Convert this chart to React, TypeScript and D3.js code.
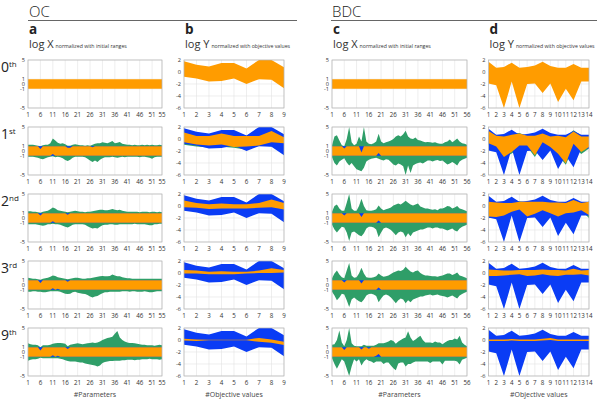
import React from "react";
import * as d3 from "d3";

const W = 600;
const H = 401;
const FONT = "'Open Sans', 'Noto Sans', sans-serif";
const ORANGE = "#ff9c00";
const GREEN = "#2f9e68";
const BLUE = "#0a3cf5";

const ROW_LABELS = [
  ["0", "th"],
  ["1", "st"],
  ["2", "nd"],
  ["3", "rd"],
  ["9", "th"],
];

const A_X_TICKS = [1, 6, 11, 16, 21, 26, 31, 36, 41, 46, 51, 55];
const C_X_TICKS = [1, 6, 11, 16, 21, 26, 31, 36, 41, 46, 51, 56];
const B_X_TICKS = [1, 2, 3, 4, 5, 6, 7, 8, 9];
const D_X_TICKS = [1, 2, 3, 4, 5, 6, 7, 8, 9, 10, 11, 12, 13, 14];
const X_Y_TICKS = [5, 1, 0, -1, -5];
const Y_Y_TICKS = [2, 0, -2, -4, -6];
const NORM_RANGE = [-1, 1];

// ---------- panel a (OC, log X, 55 parameters) ----------
const A1_GREEN_HI = [1.3,1.3,1.3,1.2,1.1,1.0,1.2,1.3,1.3,1.6, 2.6,2.2,1.7,1.5,1.6,1.4,1.1,1.1,1.3,1.4, 1.3,1.2,1.2,1.1,1.2,1.1,1.3,1.5,1.6,1.6, 1.8,1.7,1.6,1.8,2.1,1.6,1.7,1.9,1.5,1.4, 1.3,1.3,1.2,1.3,1.2,1.2,1.3,1.2,1.3,1.2, 1.3,1.2,1.2,1.3,1.2];
const A1_GREEN_LO = [-1.2,-1.2,-1.2,-1.3,-1.4,-1.6,-1.7,-1.5,-1.3,-1.2, -1.1,-1.3,-1.2,-1.3,-1.5,-1.9,-2.1,-1.8,-1.4,-1.2, -1.2,-1.2,-1.2,-1.3,-1.6,-2.0,-2.3,-2.0,-2.3,-1.8, -1.5,-1.3,-1.3,-1.3,-1.2,-1.3,-1.4,-1.3,-1.2,-1.3, -1.2,-1.2,-1.2,-1.2,-1.2,-1.3,-1.2,-1.2,-1.3,-1.4, -1.6,-1.3,-1.2,-1.2,-1.2];
const A1_ORANGE_HI = [1,1,1,1,1,0.4,1,1,1,1, 1,1,1,1,1,1,0.7,0.7,1,1, 1,1,1,1,1,1,0.8,1,1,1, 1,1,1,1,1,1,1,1,1,1, 1,1,1,1,1,1,1,1,1,1, 1,1,1,1,1];
const A1_ORANGE_LO = [-1,-1,-1,-1,-1,-1,-1,-1,-1,-1, -0.6,-1,-1,-1,-1,-1,-1,-1,-1,-1, -1,-1,-1,-1,-1,-1,-1,-1,-1,-1, -1,-1,-1,-1,-1,-1,-1,-1,-1,-1, -1,-1,-1,-1,-1,-1,-1,-1,-1,-1, -1,-1,-1,-1,-1];

const A2_GREEN_HI = [1.4,1.4,1.3,1.3,1.2,1.1,1.3,1.4,1.5,1.8, 2.2,2.0,1.6,1.5,1.4,1.3,1.2,1.3,1.4,1.5, 1.4,1.3,1.3,1.2,1.3,1.3,1.4,1.5,1.6,1.7, 1.7,1.6,1.6,1.7,1.9,1.7,1.6,1.7,1.5,1.4, 1.3,1.3,1.3,1.3,1.3,1.2,1.3,1.3,1.3,1.2, 1.3,1.3,1.2,1.3,1.2];
const A2_GREEN_LO = [-1.3,-1.3,-1.3,-1.3,-1.4,-1.5,-1.6,-1.5,-1.3,-1.3, -1.2,-1.3,-1.3,-1.4,-1.6,-1.8,-2.0,-1.7,-1.4,-1.3, -1.3,-1.3,-1.3,-1.4,-1.7,-2.0,-2.2,-2.1,-2.2,-1.8, -1.5,-1.4,-1.4,-1.3,-1.3,-1.4,-1.4,-1.3,-1.3,-1.3, -1.3,-1.3,-1.3,-1.2,-1.3,-1.3,-1.3,-1.3,-1.4,-1.5, -1.5,-1.3,-1.3,-1.2,-1.2];
const A2_ORANGE_HI = [1,1,1,1,1,0.5,1,1,1,1, 1,1,1,1,1,1,0.7,1,1,1, 1,1,1,1,1,1,1,1,1,1, 1,1,1,1,1,1,1,1,1,1, 1,1,1,1,1,1,1,1,1,1, 1,1,1,1,1];
const A2_ORANGE_LO = [-1,-1,-1,-1,-1,-1,-1,-1,-1,-1, -0.7,-1,-1,-1,-1,-1,-1,-1,-1,-1, -1,-1,-1,-1,-1,-1,-1,-1,-1,-1, -1,-1,-1,-1,-1,-1,-1,-1,-1,-1, -1,-1,-1,-1,-1,-1,-1,-1,-1,-1, -1,-1,-1,-1,-1];

const A3_GREEN_HI = [1.5,1.4,1.3,1.3,1.2,1.1,1.3,1.4,1.5,1.7, 2.0,1.9,1.6,1.5,1.4,1.3,1.2,1.3,1.4,1.5, 1.5,1.4,1.3,1.3,1.4,1.4,1.5,1.6,1.7,1.8, 1.9,1.8,1.8,1.9,2.2,2.0,1.8,1.8,1.6,1.5, 1.4,1.4,1.3,1.3,1.3,1.3,1.3,1.3,1.3,1.3, 1.3,1.3,1.3,1.3,1.3];
const A3_GREEN_LO = [-1.4,-1.4,-1.3,-1.3,-1.4,-1.4,-1.5,-1.5,-1.4,-1.3, -1.3,-1.3,-1.3,-1.4,-1.6,-1.8,-1.9,-1.8,-1.5,-1.4, -1.6,-1.7,-1.8,-1.9,-2.1,-2.4,-2.6,-2.4,-2.3,-2.0, -1.7,-1.5,-1.5,-1.4,-1.4,-1.4,-1.4,-1.4,-1.3,-1.3, -1.3,-1.4,-1.3,-1.3,-1.4,-1.4,-1.4,-1.3,-1.4,-1.5, -1.5,-1.4,-1.3,-1.3,-1.3];
const A3_ORANGE_HI = [1,1,1,1,1,0.4,1,1,1,1, 1,1,1,1,1,1,0.7,1,1,1, 1,1,1,1,1,1,1,1,1,1, 1,1,1,1,1,1,1,1,1,1, 1,1,1,1,1,1,1,1,1,1, 1,1,1,1,1];
const A3_ORANGE_LO = [-1,-1,-1,-1,-1,-1,-1,-1,-1,-1, -0.7,-1,-0.8,-1,-1,-1,-1,-1,-1,-1, -1,-1,-1,-1,-1,-1,-1,-1,-1,-1, -1,-1,-1,-1,-1,-1,-1,-1,-1,-1, -1,-1,-1,-1,-1,-1,-1,-1,-1,-1, -1,-1,-1,-1,-1];

const A9_GREEN_HI = [1.8,1.6,1.5,1.5,1.4,1.0,1.4,1.4,1.4,1.5, 1.7,1.8,1.9,1.9,1.8,1.7,1.2,1.5,1.6,1.7, 1.8,1.7,1.6,1.7,1.8,1.9,2.0,1.9,2.0,2.2, 2.5,2.7,2.9,3.0,3.2,3.8,4.4,3.0,2.5,2.2, 2.0,1.9,1.9,1.8,1.7,1.6,1.5,1.5,1.4,1.4, 1.4,1.3,1.4,1.5,1.4];
const A9_GREEN_LO = [-1.8,-1.6,-1.5,-1.5,-1.4,-1.2,-1.3,-1.3,-1.3,-1.3, -1.3,-1.3,-1.3,-1.4,-1.5,-1.7,-1.9,-2.0,-2.0,-2.0, -2.1,-2.2,-2.2,-2.4,-2.5,-2.6,-2.7,-2.8,-3.0,-2.8, -2.3,-2.1,-2.0,-1.9,-1.9,-1.8,-1.8,-1.8,-1.7,-1.7, -1.6,-1.6,-1.6,-1.7,-1.6,-1.6,-1.5,-1.5,-1.5,-1.4, -1.5,-1.5,-1.5,-1.6,-1.5];
const A9_ORANGE_HI = [1,1,1,1,1,0.3,1,1,1,1, 1,1,1,1,1,1,0.6,1,1,1, 1,1,1,1,1,1,1,1,1,1, 1,1,1,1,1,1,1,1,1,1, 1,1,1,1,1,1,1,1,1,1, 1,1,1,1,1];
const A9_ORANGE_LO = [-1,-1,-1,-1,-1,-1,-1,-1,-1,-1, -0.7,-1,-0.8,-1,-1,-1,-1,-1,-1,-1, -1,-1,-1,-1,-1,-1,-1,-1,-1,-1, -1,-1,-1,-1,-1,-1,-1,-1,-1,-1, -1,-1,-1,-1,-1,-1,-1,-1,-1,-1, -1,-1,-1,-1,-1];

// ---------- panel b (OC, log Y, 9 objectives) ----------
const B_INIT_HI = [1.8, 1.2, 0.9, 1.5, 1.5, 0.6, 2.0, 2.0, 0.8];
const B_INIT_LO = [-0.8, -1.1, -1.6, -1.5, -1.1, -2.0, -1.2, -1.3, -2.7];
const B1_GREEN_HI = [1.6, 1.0, 0.7, 1.3, 1.3, 0.5, 1.8, 1.8, 0.7];
const B1_GREEN_LO = [-0.95, -1.25, -1.4, -1.3, -1.45, -1.8, -1.1, -1.2, -2.4];
const B1_ORANGE_HI = [1.1, 0.5, 0.5, 0.9, 0.5, 0.5, 0.5, 1.35, 0.3];
const B1_ORANGE_LO = [-0.55, -0.9, -1.1, -0.9, -1.35, -1.25, -1.1, -0.55, -0.7];
const B2_GREEN_HI = [1.4, 0.9, 0.6, 1.2, 1.2, 0.4, 1.6, 1.6, 0.6];
const B2_GREEN_LO = [-0.6, -0.8, -1.2, -1.2, -0.9, -1.6, -1.0, -1.0, -2.2];
const B2_ORANGE_HI = [0.9, 0.5, 0.3, 0.4, 0.3, 0.3, 0.5, 1.1, 0.5];
const B2_ORANGE_LO = [-0.2, -0.3, -0.5, -0.4, -0.4, -0.4, -0.3, -0.2, -0.6];
const B3_GREEN_HI = [1.4, 0.9, 0.6, 1.2, 1.2, 0.4, 1.6, 1.6, 0.6];
const B3_GREEN_LO = [-0.6, -0.8, -1.2, -1.2, -0.9, -1.6, -1.0, -1.0, -2.2];
const B3_ORANGE_HI = [0.5, 0.4, 0.2, 0.3, 0.2, 0.2, 0.4, 0.8, 0.5];
const B3_ORANGE_LO = [-0.1, -0.1, -0.2, -0.2, -0.2, -0.1, 0.0, 0.0, 0.1];
const B9_GREEN_HI = [1.4, 0.9, 0.6, 1.2, 1.2, 0.4, 1.6, 1.6, 0.6];
const B9_GREEN_LO = [-0.6, -0.8, -1.2, -1.2, -0.9, -1.6, -1.0, -1.0, -2.2];
const B9_ORANGE_HI = [0.2, 0.1, 0.05, 0.05, 0.05, 0.05, 0.35, 0.1, -0.3];
const B9_ORANGE_LO = [-0.1, -0.15, -0.05, -0.05, -0.05, -0.05, -0.3, -0.45, -0.85];

// ---------- panel c (BDC, log X, 56 parameters) ----------
const C1_GREEN_HI = [1.2,3.0,3.3,2.2,1.2,1.0,2.5,5.0,1.8,1.2, 1.5,3.0,2.0,5.0,2.0,1.5,1.4,1.6,2.0,3.6, 2.0,1.6,1.8,2.0,2.2,2.5,3.0,3.3,3.0,3.5, 4.2,3.0,2.6,2.5,2.8,2.3,2.2,2.0,1.8,1.9, 1.8,1.7,1.8,1.6,1.5,1.5,1.8,2.0,2.4,1.8, 2.2,2.6,2.0,1.6,1.5,1.3];
const C1_GREEN_LO = [-1.3,-2.5,-3.0,-2.2,-1.8,-1.5,-2.4,-3.0,-2.5,-3.2, -3.8,-4.0,-4.2,-3.5,-2.2,-1.8,-1.6,-1.5,-1.4,-1.6, -1.8,-2.0,-1.7,-1.8,-2.3,-2.8,-3.0,-2.6,-2.8,-3.2, -5.0,-3.0,-4.6,-3.0,-2.7,-2.5,-2.4,-2.6,-2.3,-2.0, -2.0,-2.2,-2.0,-1.9,-2.1,-2.0,-2.4,-2.8,-2.6,-2.3, -2.6,-3.0,-2.2,-1.8,-1.6,-1.4];
const C1_ORANGE_HI = [1,1,1,1,1,0.5,1,1,1,1, 1,1,-0.3,1,1,1,1,1,1,1, 1,1,1,1,1,1,1,1,1,1, 1,1,1,1,1,1,1,1,1,1, 1,1,1,1,1,1,1,1,1,1, 1,1,1,1,1,1];
const C1_ORANGE_LO = [-1,-1,-1,-1,-1,-1,-1,-1,-1,-1, -1,-1,-1,-1,-1,-1,-1,-1,-1,-0.4, -1,-1,-1,-1,-1,-1,-1,-1,-1,-1, -1,-1,-1,-1,-1,-1,-1,-1,-1,-1, -1,-1,-1,-1,-1,-1,-1,-1,-1,-1, -1,-1,-1,-1,-1,-1];

const C2_GREEN_HI = [1.3,2.5,2.8,2.0,1.5,1.5,3.2,5.0,2.0,1.5, 1.5,2.5,4.0,2.5,1.6,1.5,1.5,1.6,1.8,2.6, 2.0,1.6,1.8,2.0,2.2,2.6,2.8,3.0,2.8,3.2, 3.6,3.2,2.8,2.6,2.8,3.0,2.4,2.2,2.0,2.0, 1.8,1.7,1.8,1.6,2.0,2.0,2.2,2.5,2.4,2.0, 2.2,2.5,2.0,1.8,1.6,1.4];
const C2_GREEN_LO = [-1.4,-2.4,-3.0,-2.4,-1.8,-2.0,-3.0,-4.8,-3.0,-2.8, -3.2,-3.6,-3.8,-3.2,-2.2,-1.8,-1.8,-2.0,-2.4,-4.0, -3.0,-2.2,-2.0,-2.2,-2.5,-3.0,-3.6,-3.0,-2.8,-3.0, -4.0,-3.2,-3.8,-3.0,-2.8,-2.6,-2.4,-2.4,-2.2,-2.0, -2.0,-2.2,-2.0,-2.0,-2.2,-2.2,-2.4,-2.6,-2.4,-2.2, -2.6,-2.8,-2.2,-1.8,-1.6,-1.4];
const C2_ORANGE_HI = [1,1,1,1,1,0.5,1,1,1,1, 1,1,0.2,1,1,1,1,1,1,1, 1,1,1,1,1,1,1,1,1,1, 1,1,1,1,1,1,1,1,1,1, 1,1,1,1,1,1,1,1,1,1, 1,1,1,1,1,1];
const C2_ORANGE_LO = [-1,-1,-1,-1,-1,-1,-1,-1,-1,-1, -1,-1,-1,-1,-1,-1,-1,-1,-1,-0.5, -1,-1,-1,-1,-1,-1,-1,-1,-1,-1, -1,-1,-1,-1,-1,-1,-1,-1,-1,-1, -1,-1,-1,-1,-1,-1,-1,-1,-1,-1, -1,-1,-1,-1,-1,-1];

const C3_GREEN_HI = [1.4,2.4,3.0,2.2,1.6,1.4,3.0,4.6,2.0,1.5, 1.6,2.4,3.6,2.4,1.6,1.5,1.5,1.6,1.8,2.4, 2.0,1.7,1.8,2.0,2.3,2.6,2.8,3.0,2.9,3.2, 3.8,3.3,2.8,2.6,2.9,3.0,2.5,2.2,2.0,2.0, 1.9,1.8,1.8,1.7,1.9,2.0,2.2,2.4,2.4,2.1, 2.3,2.6,2.0,1.8,1.6,1.4];
const C3_GREEN_LO = [-1.4,-2.2,-3.2,-2.6,-1.8,-2.0,-3.2,-4.6,-3.0,-2.6, -3.0,-3.4,-3.6,-3.0,-2.2,-1.9,-1.8,-2.0,-2.3,-3.6, -2.8,-2.2,-2.0,-2.2,-2.6,-3.2,-3.8,-3.2,-2.8,-3.0, -3.8,-3.2,-3.6,-3.0,-2.8,-2.6,-2.4,-2.4,-2.2,-2.1, -2.0,-2.2,-2.1,-2.0,-2.2,-2.3,-2.4,-2.6,-2.4,-2.2, -2.5,-2.8,-2.2,-1.9,-1.6,-1.4];
const C3_ORANGE_HI = [1,1,1,1,1,0.5,1,1,1,1, 1,1,0.3,1,1,1,1,1,1,1, 1,1,1,1,1,1,1,1,1,1, 1,1,1,1,1,1,1,1,1,1, 1,1,1,1,1,1,1,1,1,1, 1,1,1,1,1,1];
const C3_ORANGE_LO = [-1,-1,-1,-1,-1,-1,-1,-1,-1,-1, -1,-1,-1,-1,-1,-1,-1,-1,-1,-0.5, -1,-1,-1,-1,-1,-1,-1,-1,-1,-1, -1,-1,-1,-1,-1,-1,-1,-1,-1,-1, -1,-1,-1,-1,-1,-1,-1,-1,-1,-1, -1,-1,-1,-1,-1,-1];

const C9_GREEN_HI = [1.5,1.6,2.5,4.5,2.0,1.2,2.5,5.0,1.8,1.3, 1.2,1.2,1.2,1.5,1.3,1.3,1.3,1.3,1.5,1.8, 1.8,1.8,2.0,2.2,2.5,2.3,1.7,2.2,2.5,2.8, 3.0,4.3,3.0,2.3,2.6,3.0,3.4,2.5,2.0,2.0, 2.0,1.9,2.2,2.0,2.0,1.6,2.0,2.3,2.5,2.5, 2.8,2.6,3.4,2.0,1.5,1.2];
const C9_GREEN_LO = [-1.3,-2.5,-3.5,-2.5,-1.5,-2.0,-3.5,-5.0,-3.0,-1.5, -2.0,-1.5,-2.8,-2.0,-1.5,-1.8,-2.0,-2.3,-2.0,-2.0, -2.0,-2.5,-2.2,-2.2,-2.8,-3.4,-3.8,-2.4,-2.2,-2.2, -3.0,-2.5,-2.5,-2.2,-2.0,-2.0,-2.0,-2.0,-2.0,-2.0, -2.3,-2.0,-2.0,-2.0,-2.0,-2.6,-1.8,-1.8,-1.8,-1.8, -1.8,-2.0,-2.6,-1.6,-1.4,-1.2];
const C9_ORANGE_HI = [1,1,1,1,1,0.4,1,1,1,1, 1,1,0.5,1,1,0.7,1,1,1,1, 1,1,1,1,1,1,1,1,1,1, 1,1,1,1,1,1,1,1,1,1, 1,1,1,1,1,1,1,1,1,1, 1,1,1,1,1,1];
const C9_ORANGE_LO = [-1,-1,-1,-1,-1,-1,-1,-1,-1,-1, -1,-1,-1,-1,-1,-1,-1,-1,-0.8,-0.4, -1,-1,-1,-1,-1,-1,-1,-1,-1,-1, -1,-1,-1,-1,-1,-1,-1,-1,-1,-1, -1,-1,-1,-1,-1,-1,-1,-1,-1,-1, -1,-1,-1,-1,-1,-1];

// ---------- panel d (BDC, log Y, 14 objectives) ----------
const D_INIT_HI = [1.7, 0.7, 0.85, 1.55, 0.7, 0.85, 1.1, 1.7, 1.0, 0.7, 0.7, 1.35, 0.7, 0.7];
const D_INIT_LO = [-1.9, -2.2, -6.0, -1.6, -6.0, -2.0, -1.9, -3.5, -1.9, -5.0, -2.8, -4.7, -1.6, -1.6];
const D1_GREEN_HI = [1.3, 0.5, 0.5, 0.9, 1.0, 0.5, 0.6, 1.0, 0.5, 0.5, 0.4, 1.45, 0.6, 0.6];
const D1_GREEN_LO = [-1.0, -1.5, -3.2, -2.4, -1.6, -1.3, -3.0, -0.8, -1.6, -2.7, -4.3, -1.3, -2.5, -1.6];
const D1_ORANGE_HI = [1.35, 0.55, 0.4, 0.7, 0.9, 0.55, 0.55, 0.9, 0.4, 0.55, 0.3, 1.25, 0.4, 0.4];
const D1_ORANGE_LO = [-0.7, -1.25, -3.0, -2.15, -1.1, -1.1, -2.7, -0.55, -1.35, -2.45, -4.05, -0.8, -2.15, -1.35];
const D2_GREEN_HI = [1.2, 0.5, 0.5, 0.8, 0.8, 0.6, 0.7, 0.9, 0.6, 0.6, 0.5, 1.2, 0.5, 0.7];
const D2_GREEN_LO = [-2.0, -1.9, -1.7, -1.0, -0.8, -1.8, -1.4, -0.8, -1.3, -1.8, -1.3, -1.2, -0.8, -2.0];
const D2_ORANGE_HI = [0.7, 0.6, 0.5, 0.5, 0.7, 0.7, 0.7, 0.7, 0.6, 0.6, 0.5, 1.0, 0.5, 0.7];
const D2_ORANGE_LO = [-1.75, -1.85, -1.6, -0.95, -0.6, -1.75, -1.3, -0.7, -1.2, -1.75, -1.2, -1.1, -0.7, -1.5];
const D3_GREEN_HI = [1.0, 0.5, 0.5, 0.6, 0.6, 0.5, 0.6, 0.8, 0.6, 0.5, 0.5, 1.0, 0.5, 0.6];
const D3_GREEN_LO = [-1.0, -1.0, -0.8, -0.6, -0.5, -0.8, -0.8, -0.5, -0.8, -0.8, -0.6, -0.6, -0.5, -0.8];
const D3_ORANGE_HI = [0.6, 0.5, 0.4, 0.4, 0.5, 0.5, 0.5, 0.6, 0.5, 0.5, 0.4, 0.7, 0.4, 0.5];
const D3_ORANGE_LO = [-0.5, -0.5, -0.4, -0.3, -0.2, -0.5, -0.4, -0.2, -0.4, -0.5, -0.3, -0.3, -0.2, -0.4];
const D9_GREEN_HI = [0.2, 0.1, 0.1, 0.2, 0.1, 0.1, 0.1, 0.2, 0.4, 0.1, 0.1, 0.1, 0.1, 0.1];
const D9_GREEN_LO = [-0.2, -0.2, -0.2, -0.2, -0.2, -0.2, -0.2, -0.2, -0.2, -0.2, -0.2, -0.2, -0.2, -0.2];
const D9_ORANGE_HI = [0.1, 0.1, 0.1, 0.15, 0.1, 0.1, 0.1, 0.2, 0.35, 0.1, 0.1, 0.1, 0.1, 0.1];
const D9_ORANGE_LO = [-0.15, -0.15, -0.15, -0.1, -0.15, -0.15, -0.15, -0.1, 0.0, -0.15, -0.15, -0.15, -0.15, -0.15];

type Band = { hi: number[]; lo: number[] };
type RowData = { green: Band; orange: Band } | null;
type PanelSpec = {
  letter: string;
  x0: number;
  x1: number;
  n: number;
  xTicks: number[];
  yDomain: [number, number];
  yTicks: number[];
  init: Band | null; // null -> normalized initial range band
  rows: RowData[];
  big: string;
  small: string;
  axisTitle: string;
};

const PANELS: PanelSpec[] = [
  {
    letter: "a", x0: 28, x1: 162, n: 55, xTicks: A_X_TICKS, yDomain: [-5, 5], yTicks: X_Y_TICKS, init: null,
    big: "log X", small: "normalized with initial ranges", axisTitle: "#Parameters",
    rows: [
      null,
      { green: { hi: A1_GREEN_HI, lo: A1_GREEN_LO }, orange: { hi: A1_ORANGE_HI, lo: A1_ORANGE_LO } },
      { green: { hi: A2_GREEN_HI, lo: A2_GREEN_LO }, orange: { hi: A2_ORANGE_HI, lo: A2_ORANGE_LO } },
      { green: { hi: A3_GREEN_HI, lo: A3_GREEN_LO }, orange: { hi: A3_ORANGE_HI, lo: A3_ORANGE_LO } },
      { green: { hi: A9_GREEN_HI, lo: A9_GREEN_LO }, orange: { hi: A9_ORANGE_HI, lo: A9_ORANGE_LO } },
    ],
  },
  {
    letter: "b", x0: 184, x1: 284, n: 9, xTicks: B_X_TICKS, yDomain: [-6, 2], yTicks: Y_Y_TICKS,
    init: { hi: B_INIT_HI, lo: B_INIT_LO },
    big: "log Y", small: "normalized with objective values", axisTitle: "#Objective values",
    rows: [
      null,
      { green: { hi: B1_GREEN_HI, lo: B1_GREEN_LO }, orange: { hi: B1_ORANGE_HI, lo: B1_ORANGE_LO } },
      { green: { hi: B2_GREEN_HI, lo: B2_GREEN_LO }, orange: { hi: B2_ORANGE_HI, lo: B2_ORANGE_LO } },
      { green: { hi: B3_GREEN_HI, lo: B3_GREEN_LO }, orange: { hi: B3_ORANGE_HI, lo: B3_ORANGE_LO } },
      { green: { hi: B9_GREEN_HI, lo: B9_GREEN_LO }, orange: { hi: B9_ORANGE_HI, lo: B9_ORANGE_LO } },
    ],
  },
  {
    letter: "c", x0: 332, x1: 467, n: 56, xTicks: C_X_TICKS, yDomain: [-5, 5], yTicks: X_Y_TICKS, init: null,
    big: "log X", small: "normalized with initial ranges", axisTitle: "#Parameters",
    rows: [
      null,
      { green: { hi: C1_GREEN_HI, lo: C1_GREEN_LO }, orange: { hi: C1_ORANGE_HI, lo: C1_ORANGE_LO } },
      { green: { hi: C2_GREEN_HI, lo: C2_GREEN_LO }, orange: { hi: C2_ORANGE_HI, lo: C2_ORANGE_LO } },
      { green: { hi: C3_GREEN_HI, lo: C3_GREEN_LO }, orange: { hi: C3_ORANGE_HI, lo: C3_ORANGE_LO } },
      { green: { hi: C9_GREEN_HI, lo: C9_GREEN_LO }, orange: { hi: C9_ORANGE_HI, lo: C9_ORANGE_LO } },
    ],
  },
  {
    letter: "d", x0: 488.5, x1: 589, n: 14, xTicks: D_X_TICKS, yDomain: [-6, 2], yTicks: Y_Y_TICKS,
    init: { hi: D_INIT_HI, lo: D_INIT_LO },
    big: "log Y", small: "normalized with objective values", axisTitle: "#Objective values",
    rows: [
      null,
      { green: { hi: D1_GREEN_HI, lo: D1_GREEN_LO }, orange: { hi: D1_ORANGE_HI, lo: D1_ORANGE_LO } },
      { green: { hi: D2_GREEN_HI, lo: D2_GREEN_LO }, orange: { hi: D2_ORANGE_HI, lo: D2_ORANGE_LO } },
      { green: { hi: D3_GREEN_HI, lo: D3_GREEN_LO }, orange: { hi: D3_ORANGE_HI, lo: D3_ORANGE_LO } },
      { green: { hi: D9_GREEN_HI, lo: D9_GREEN_LO }, orange: { hi: D9_ORANGE_HI, lo: D9_ORANGE_LO } },
    ],
  },
];

const GROUPS = [
  { title: "OC", x0: 28, x1: 297 },
  { title: "BDC", x0: 331, x1: 597 },
];

const ROW_TOP0 = 60;
const ROW_STEP = 67;
const PLOT_H = 48;

function Plot({ spec, rowIdx, pi }: { spec: PanelSpec; rowIdx: number; pi: number }) {
  const top = ROW_TOP0 + rowIdx * ROW_STEP;
  const bottom = top + PLOT_H;
  const x = d3.scaleLinear().domain([1, spec.n]).range([spec.x0, spec.x1]);
  const y = d3.scaleLinear().domain(spec.yDomain).range([bottom, top]);
  const idx = d3.range(1, spec.n + 1);
  const bandPath = (hi: (i: number) => number, lo: (i: number) => number) =>
    d3
      .area<number>()
      .x((d) => x(d))
      .y0((_, i) => y(lo(i)))
      .y1((_, i) => y(hi(i)))(idx) || "";
  const initPath = spec.init
    ? bandPath((i) => spec.init!.hi[i], (i) => spec.init!.lo[i])
    : bandPath(() => NORM_RANGE[1], () => NORM_RANGE[0]);
  const row = spec.rows[rowIdx];
  const clipId = `clip-${pi}-${rowIdx}`;
  return (
    <g>
      <defs>
        <clipPath id={clipId}>
          <rect x={spec.x0} y={top} width={spec.x1 - spec.x0} height={PLOT_H} />
        </clipPath>
      </defs>
      <rect x={spec.x0} y={top} width={spec.x1 - spec.x0} height={PLOT_H} fill="#fff" />
      {spec.xTicks.map((t) => (
        <line key={"gx" + t} x1={x(t)} x2={x(t)} y1={top} y2={bottom} stroke="#e3e3e3" strokeWidth={0.6} />
      ))}
      {spec.yTicks.map((t) => (
        <line key={"gy" + t} x1={spec.x0} x2={spec.x1} y1={y(t)} y2={y(t)} stroke="#e3e3e3" strokeWidth={0.6} />
      ))}
      <g clipPath={`url(#${clipId})`}>
        {row ? (
          <>
            <path d={bandPath((i) => row.green.hi[i], (i) => row.green.lo[i])} fill={GREEN} />
            <path d={initPath} fill={BLUE} />
            <path d={bandPath((i) => row.orange.hi[i], (i) => row.orange.lo[i])} fill={ORANGE} />
          </>
        ) : (
          <path d={initPath} fill={ORANGE} />
        )}
      </g>
      <rect x={spec.x0} y={top} width={spec.x1 - spec.x0} height={PLOT_H} fill="none" stroke="#b5b5b5" strokeWidth={0.7} />
      {spec.xTicks.map((t) => (
        <text key={"tx" + t} x={x(t)} y={bottom + 8.5} fontSize={6.2} textAnchor="middle" fill="#333" fontFamily={FONT}>
          {t}
        </text>
      ))}
      {spec.yTicks.map((t) => (
        <text key={"ty" + t} x={spec.x0 - 3} y={y(t) + 2} fontSize={5.6} textAnchor="end" fill="#333" fontFamily={FONT}>
          {t}
        </text>
      ))}
    </g>
  );
}

export default function App() {
  return (
    <svg width={W} height={H} style={{ position: "absolute", left: 0, top: 0, background: "#fff" }} fontFamily={FONT}>
      {GROUPS.map((g) => (
        <g key={g.title}>
          <text x={g.x0 + 1} y={16.5} fontSize={15} fill="#222" fontWeight={300}>{g.title}</text>
          <line x1={g.x0} x2={g.x1} y1={20.5} y2={20.5} stroke="#666" strokeWidth={1} />
        </g>
      ))}
      {PANELS.map((p) => (
        <g key={p.letter}>
          <text x={p.x0 + 1} y={34} fontSize={13.5} fontWeight={700} fill="#222">{p.letter}</text>
          <text x={p.x0 + 1} y={47.5} fill="#333">
            <tspan fontSize={11}>{p.big}</tspan>
            <tspan fontSize={5.2} dx={2}>{p.small}</tspan>
          </text>
          <text x={(p.x0 + p.x1) / 2} y={397} fontSize={7} textAnchor="middle" fill="#444">{p.axisTitle}</text>
        </g>
      ))}
      {ROW_LABELS.map(([num, suf], r) => (
        <text key={r} x={1} y={ROW_TOP0 + r * ROW_STEP + 12} fontSize={14} fill="#222">
          {num}
          <tspan fontSize={8} dy={-5}>{suf}</tspan>
        </text>
      ))}
      {PANELS.map((p, pi) => p.rows.map((_, r) => <Plot key={p.letter + r} spec={p} rowIdx={r} pi={pi} />))}
    </svg>
  );
}
